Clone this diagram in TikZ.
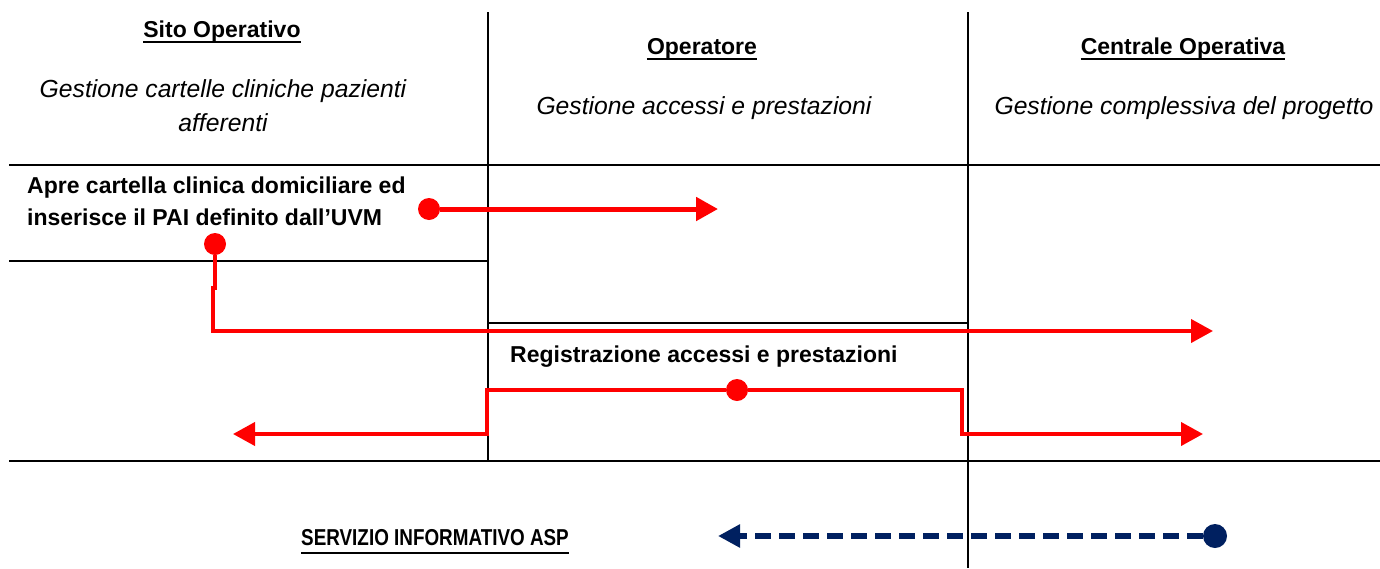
\documentclass[tikz,border=0pt]{standalone}
\usepackage{fontspec}
\setmainfont{Liberation Sans}
\usetikzlibrary{arrows.meta}
\definecolor{navy}{HTML}{002060}
\begin{document}
\begin{tikzpicture}[x=1pt,y=-1pt,
  grid/.style={draw=black,line width=1.5pt},
  flow/.style={draw=red,line width=4pt,-{Triangle[length=22pt,width=23pt]}},
  dotr/.style={circle,fill=red,inner sep=0pt,minimum size=22pt},
  dotb/.style={circle,fill=navy,inner sep=0pt,minimum size=24pt},
  ret/.style={draw=navy,line width=6pt,dash pattern=on 16pt off 8pt,-{Triangle[length=22pt,width=22pt]}},
  title/.style={font=\fontsize{23}{27}\selectfont\bfseries,anchor=base,inner sep=0pt},
  sub/.style={font=\fontsize{24.7}{34}\selectfont\itshape,anchor=base,inner sep=0pt},
  lab/.style={font=\fontsize{23}{32}\selectfont\bfseries,anchor=base west,inner sep=0pt},
  uline/.style={draw=black,line width=1.8pt}]
\useasboundingbox[fill=white] (0,0) rectangle (1380,568);
% grid
\draw[grid] (488,12) -- (488,462);
\draw[grid] (968,12) -- (968,568);
\draw[grid] (9,165) -- (1380,165);
\draw[grid] (9,261) -- (488,261);
\draw[grid] (488,323) -- (968,323);
\draw[grid] (9,461) -- (1380,461);
% headings
\node[title] (h1) at (222,37) {Sito Operativo};
\node[title] (h2) at (702,54) {Operatore};
\node[title] (h3) at (1183,54) {Centrale Operativa};
\foreach \n in {h1,h2,h3}
  \draw[uline] ([yshift=-5pt]\n.base west) -- ([yshift=-5pt]\n.base east);
\node[sub] (s1a) at (223,97) {Gestione cartelle cliniche pazienti};
\node[sub] (s1b) at (223,131) {afferenti};
\node[sub] (s2) at (704,114) {Gestione accessi e prestazioni};
\node[sub] (s3) at (1184,114) {Gestione complessiva del progetto};
% labels
\node[lab] (l1a) at (27,193) {Apre cartella clinica domiciliare ed};
\node[lab] (l1b) at (27,225) {inserisce il PAI definito dall’UVM};
\node[lab] (l2) at (510,362) {Registrazione accessi e prestazioni};
\node[title] (asp) at (435,545) {\scalebox{0.82}[1]{SERVIZIO INFORMATIVO ASP}};
\draw[uline] ([yshift=-8pt]asp.base west) -- ([yshift=-8pt]asp.base east);
% dots and ends
\node[dotr] (d1) at (429,209) {};
\coordinate (e1) at (718,209);
\node[dotr] (d2) at (215,244) {};
\coordinate (e2) at (1213,331);
\node[dotr] (d3) at (737,390) {};
\coordinate (e3) at (233,434);
\coordinate (e4) at (1203,434);
\node[dotb] (d4) at (1215,536) {};
\coordinate (e5) at (718,536);
% connectors
\draw[flow,line width=5pt] (d1) -- (e1);
\draw[flow] (d2.south) -- (215,288) -- (213,288) -- (213,331) -- (e2);
\draw[flow] (d3.west) -- (487,390) -- (487,434) -- (e3);
\draw[flow] (d3.east) -- (962,390) -- (962,434) -- (e4);
\draw[ret] (d4.west) -- (e5);
\end{tikzpicture}
\end{document}
